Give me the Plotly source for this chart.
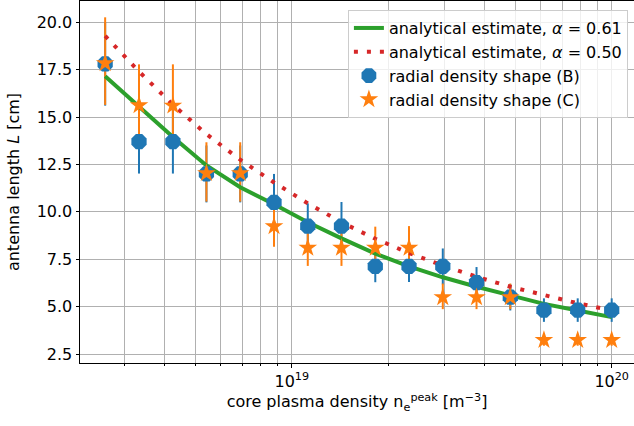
import plotly.graph_objects as go

# core plasma density n_e^peak [m^-3]
density = [2.61e18, 3.33e18, 4.25e18, 5.41e18, 6.90e18, 8.80e18, 1.122e19, 1.430e19,
           1.824e19, 2.325e19, 2.965e19, 3.78e19, 4.82e19, 6.14e19, 7.83e19, 1.0e20]

# radial density shape (B)
L_B = [17.8, 13.7, 13.7, 12.0, 12.0, 10.5, 9.25, 9.25, 7.12, 7.12, 7.12, 6.27, 5.5, 4.82, 4.82, 4.82]
err_B = [2.2, 1.68, 1.68, 1.5, 1.5, 1.5, 1.2, 1.27, 0.83, 0.82, 0.95, 0.82, 0.7, 0.62, 0.62, 0.62]

# radial density shape (C)
L_C = [17.84, 15.62, 15.6, 12.04, 12.04, 9.24, 8.1, 8.1, 8.1, 8.1, 5.5, 5.5, 5.5, 3.24, 3.24, 3.24]
errp_C = [2.42, 2.16, 2.18, 1.63, 1.63, 1.08, 0.95, 0.95, 1.12, 1.15, 0.72, 0.7, 0.72, 0.3, 0.3, 0.3]
errm_C = [2.2, 2.16, 2.18, 1.5, 1.5, 1.08, 0.95, 0.95, 1.0, 1.0, 0.63, 0.63, 0.63, 0.3, 0.3, 0.3]

# analytical estimates
fit_061 = [17.15, 15.55, 13.95, 12.45, 11.3, 10.4, 9.45, 8.6, 7.8, 7.12, 6.55, 6.05, 5.58, 5.15, 4.8, 4.45]
fit_050 = [19.28, 17.4, 15.65, 14.1, 12.75, 11.55, 10.45, 9.45, 8.58, 7.83, 7.17, 6.58, 6.05, 5.6, 5.18, 4.8]

x_major = [1e19, 1e20]
x_major_text = ["10<sup>19</sup>", "10<sup>20</sup>"]
x_minor = [k * 1e18 for k in range(2, 10)] + [k * 1e19 for k in range(2, 10)]
y_ticks = [2.5, 5.0, 7.5, 10.0, 12.5, 15.0, 17.5, 20.0]

BLUE, ORANGE, GREEN, RED = "#1f77b4", "#ff7f0e", "#2ca02c", "#d62728"
FONT = "DejaVu Sans"
GRID = "#b0b0b0"
FS = 16

fig = go.Figure()

# error bars (drawn underneath lines and markers)
fig.add_trace(go.Scatter(
    x=density, y=L_B, mode="markers", marker=dict(color="rgba(0,0,0,0)", size=1),
    error_y=dict(type="data", array=err_B, color=BLUE, thickness=2, width=0),
    showlegend=False, hoverinfo="skip"))
fig.add_trace(go.Scatter(
    x=density, y=L_C, mode="markers", marker=dict(color="rgba(0,0,0,0)", size=1),
    error_y=dict(type="data", symmetric=False, array=errp_C, arrayminus=errm_C,
                 color=ORANGE, thickness=2, width=0),
    showlegend=False, hoverinfo="skip"))

fig.add_trace(go.Scatter(
    x=density, y=fit_061, mode="lines", line=dict(color=GREEN, width=4),
    name="analytical estimate, <i>α</i> = 0.61"))
fig.add_trace(go.Scatter(
    x=density, y=fit_050, mode="lines", line=dict(color=RED, width=4, dash="4px,9px"),
    name="analytical estimate, <i>α</i> = 0.50"))
fig.add_trace(go.Scatter(
    x=density, y=L_B, mode="markers",
    marker=dict(symbol="octagon", size=16.5, color=BLUE, line=dict(width=0)),
    name="radial density shape (B)"))
fig.add_trace(go.Scatter(
    x=density, y=L_C, mode="markers",
    marker=dict(symbol="star", size=14, color=ORANGE, line=dict(width=0)),
    name="radial density shape (C)"))

fig.update_layout(
    width=634, height=426,
    margin=dict(l=80, r=0, t=1, b=63),
    paper_bgcolor="white", plot_bgcolor="white",
    font=dict(family=FONT, size=FS, color="black"),
    legend=dict(
        x=0.989, y=0.975, xanchor="right", yanchor="top",
        bgcolor="rgba(255,255,255,0.8)", bordercolor="#cccccc", borderwidth=1,
        font=dict(family=FONT, size=FS),
    ),
    xaxis=dict(
        type="log", range=[18.338, 20.0697],
        tickmode="array", tickvals=x_major, ticktext=x_major_text,
        ticks="outside", ticklen=3.5, tickwidth=1, tickcolor="black",
        tickfont=dict(size=FS),
        showgrid=True, gridcolor=GRID, gridwidth=1,
        minor=dict(tickmode="array", tickvals=x_minor, ticks="outside", ticklen=2,
                   tickwidth=0.8, tickcolor="black", showgrid=True, gridcolor=GRID, gridwidth=1),
        showline=True, linecolor="black", linewidth=1, mirror=True, zeroline=False,
        title=dict(text="core plasma density n<sub>e</sub><sup>peak</sup> [m<sup>−3</sup>]",
                   standoff=6, font=dict(size=FS)),
    ),
    yaxis=dict(
        range=[2.03, 21.12],
        tickmode="array", tickvals=y_ticks, ticktext=[f"{v:.1f}" for v in y_ticks],
        ticks="outside", ticklen=3.5, tickwidth=1, tickcolor="black",
        tickfont=dict(size=FS),
        showgrid=True, gridcolor=GRID, gridwidth=1,
        showline=True, linecolor="black", linewidth=1, mirror=False, zeroline=False,
        title=dict(text="antenna length <i>L</i> [cm]", standoff=13, font=dict(size=FS)),
    ),
)

fig.write_html("out.html")
